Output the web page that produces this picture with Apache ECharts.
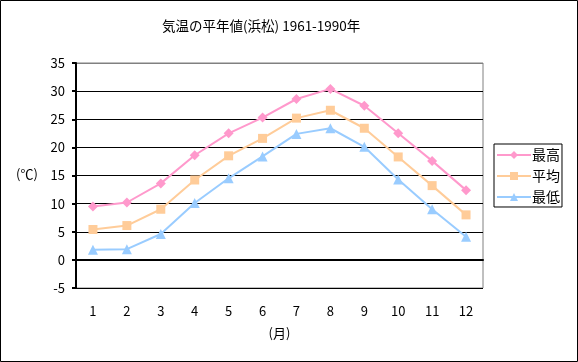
<!DOCTYPE html>
<html><head><meta charset="utf-8">
<script src="https://cdn.jsdelivr.net/npm/echarts@6/dist/echarts.min.js"></script>
<style>html,body{margin:0;padding:0;background:#fff}#c{width:578px;height:362px}</style>
</head><body><div id="c"></div>
<script>
const months = ['1','2','3','4','5','6','7','8','9','10','11','12'];
const maxTemp = [9.5, 10.2, 13.6, 18.6, 22.5, 25.3, 28.6, 30.4, 27.4, 22.5, 17.6, 12.4];
const avgTemp = [5.4, 6.1, 9.0, 14.2, 18.5, 21.6, 25.2, 26.6, 23.4, 18.3, 13.2, 8.0];
const minTemp = [1.8, 1.9, 4.6, 10.1, 14.5, 18.4, 22.4, 23.4, 20.1, 14.3, 9.0, 4.1];
const seriesNames = ['最高', '平均', '最低'];
const FONT = '"Noto Sans CJK JP", sans-serif';
const chart = echarts.init(document.getElementById('c'), null, {renderer: 'canvas'});
chart.setOption({
  animation: false,
  backgroundColor: '#fff',
  textStyle: {fontFamily: FONT},
  title: {text: '気温の平年値(浜松) 1961-1990年', left: 157, top: 14,
    textStyle: {fontFamily: FONT, fontSize: 13.5, fontWeight: 'normal', color: '#000'}},
  graphic: [
    {type: 'rect', shape: {x: 0.5, y: 0.5, width: 577, height: 361}, style: {fill: 'none', stroke: '#000', lineWidth: 1}, silent: true},
    {type: 'text', left: 16, top: 168, style: {text: '(℃)', font: '13px ' + FONT, fill: '#000'}}
  ],
  legend: {orient: 'vertical', left: 494, top: 144,
    borderColor: '#000', borderWidth: 1, padding: [4, 2, 3, 2], itemGap: 7,
    itemWidth: 34, itemHeight: 10,
    textStyle: {fontFamily: FONT, fontSize: 14, color: '#000', padding: [0, 0, 0, -4]},
    data: seriesNames},
  grid: {left: 76, top: 63, width: 407, height: 225, show: true, borderColor: '#808080', borderWidth: 1, backgroundColor: '#fff'},
  xAxis: {type: 'category', data: months, boundaryGap: true,
    name: '(月)', nameLocation: 'middle', nameGap: 39,
    nameTextStyle: {fontFamily: FONT, fontSize: 13, color: '#000'},
    axisLine: {lineStyle: {color: '#000', width: 2}},
    axisTick: {show: false},
    axisLabel: {color: '#000', fontSize: 13, margin: 17, fontFamily: FONT},
    splitLine: {show: false}},
  yAxis: {type: 'value', min: -5, max: 35, interval: 5,
    axisLine: {show: true, lineStyle: {color: '#000', width: 2}},
    axisTick: {show: true, length: 4, lineStyle: {color: '#000', width: 2}},
    axisLabel: {color: '#000', fontSize: 13, margin: 11, fontFamily: FONT},
    splitLine: {show: true, lineStyle: {color: ['#000','#000','#000','#000','#000','#000','#000','#000','#808080'], width: 1}}},
  series: [
    {name: seriesNames[0], type: 'line', data: maxTemp, symbol: 'diamond', symbolSize: 10,
      lineStyle: {color: '#FF99CC', width: 2}, itemStyle: {color: '#FF99CC'}, color: '#FF99CC'},
    {name: seriesNames[1], type: 'line', data: avgTemp, symbol: 'rect', symbolSize: 9,
      lineStyle: {color: '#FFCC99', width: 2}, itemStyle: {color: '#FFCC99'}, color: '#FFCC99'},
    {name: seriesNames[2], type: 'line', data: minTemp, symbol: 'triangle', symbolSize: 10,
      lineStyle: {color: '#99CCFF', width: 2}, itemStyle: {color: '#99CCFF'}, color: '#99CCFF'}
  ]
});
</script></body></html>
